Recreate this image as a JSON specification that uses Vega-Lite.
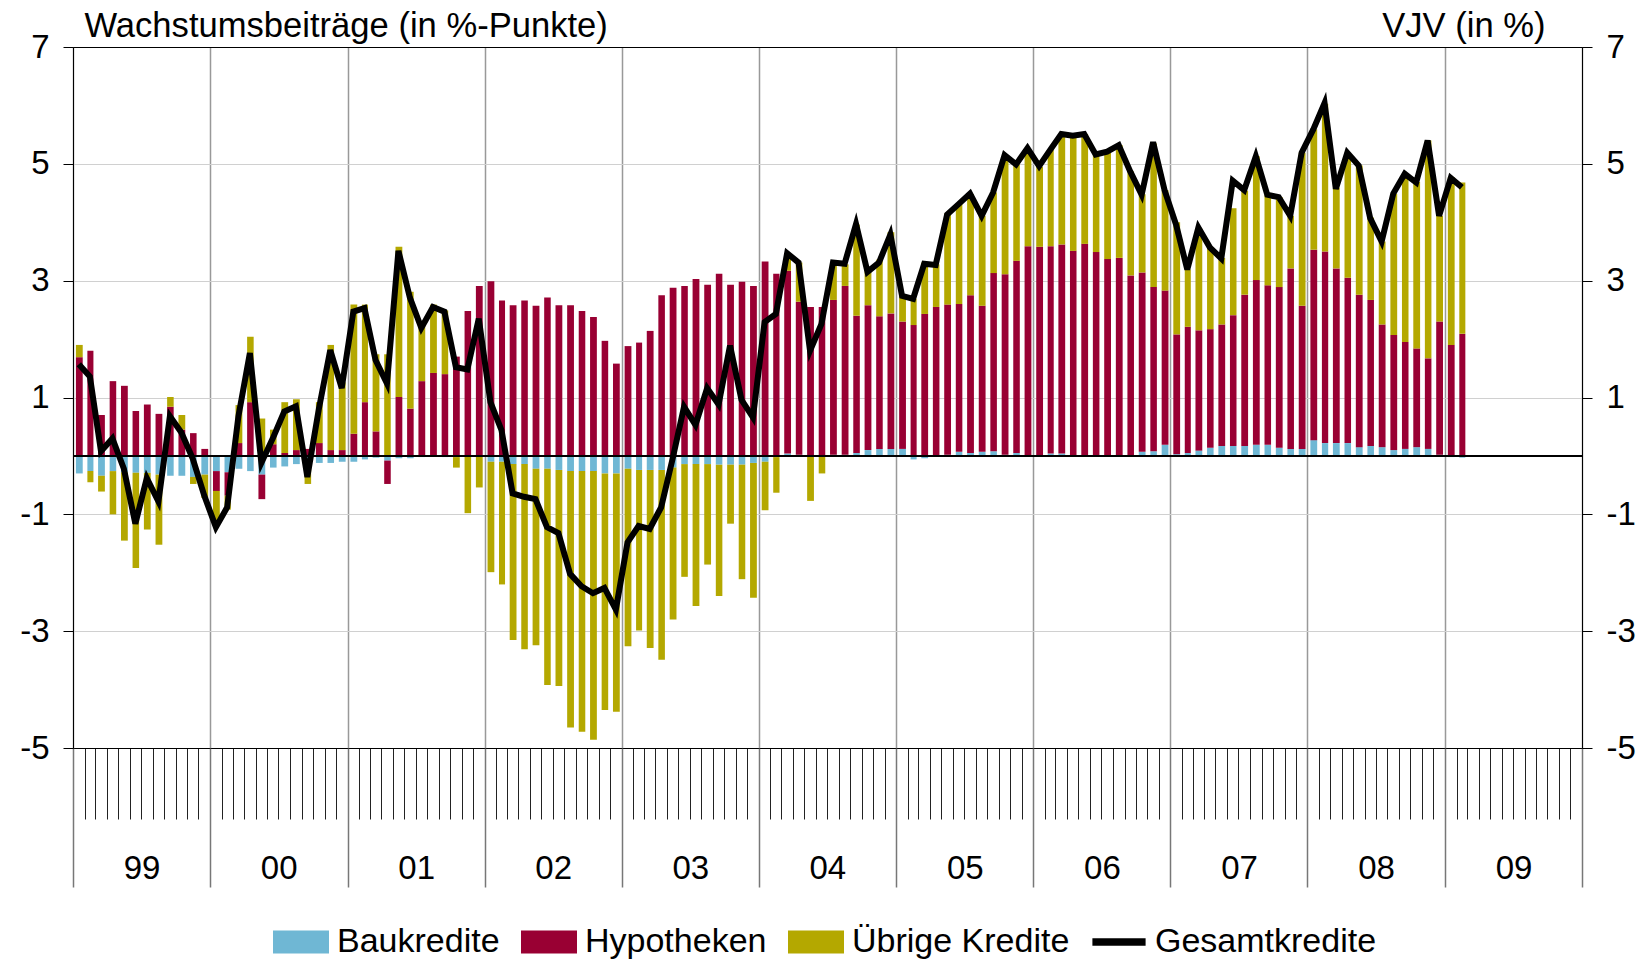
{
  "$schema": "https://vega.github.io/schema/vega-lite/v6.json",
  "width": 1509,
  "height": 701,
  "autosize": {"type": "none"},
  "padding": {"left": 73, "top": 47, "right": 66, "bottom": 212},
  "background": "white",
  "config": {
    "font": "Liberation Sans",
    "view": {"stroke": "black", "strokeWidth": 1}
  },
  "data": {"values": [
    {"d":"1999-01","Baukredite":-0.30,"Hypotheken":1.69,"Übrige Kredite":0.21,"Gesamtkredite":1.57},
    {"d":"1999-02","Baukredite":-0.26,"Hypotheken":1.80,"Übrige Kredite":-0.19,"Gesamtkredite":1.36},
    {"d":"1999-03","Baukredite":-0.34,"Hypotheken":0.70,"Übrige Kredite":-0.27,"Gesamtkredite":0.08},
    {"d":"1999-04","Baukredite":-0.26,"Hypotheken":1.28,"Übrige Kredite":-0.74,"Gesamtkredite":0.30},
    {"d":"1999-05","Baukredite":-0.28,"Hypotheken":1.20,"Übrige Kredite":-1.17,"Gesamtkredite":-0.22},
    {"d":"1999-06","Baukredite":-0.29,"Hypotheken":0.77,"Übrige Kredite":-1.63,"Gesamtkredite":-1.16},
    {"d":"1999-07","Baukredite":-0.29,"Hypotheken":0.88,"Übrige Kredite":-0.97,"Gesamtkredite":-0.38},
    {"d":"1999-08","Baukredite":-0.32,"Hypotheken":0.72,"Übrige Kredite":-1.20,"Gesamtkredite":-0.78},
    {"d":"1999-09","Baukredite":-0.34,"Hypotheken":0.84,"Übrige Kredite":0.17,"Gesamtkredite":0.68},
    {"d":"1999-10","Baukredite":-0.34,"Hypotheken":0.45,"Übrige Kredite":0.25,"Gesamtkredite":0.40},
    {"d":"1999-11","Baukredite":-0.36,"Hypotheken":0.39,"Übrige Kredite":-0.12,"Gesamtkredite":-0.05},
    {"d":"1999-12","Baukredite":-0.32,"Hypotheken":0.12,"Übrige Kredite":-0.40,"Gesamtkredite":-0.68},
    {"d":"2000-01","Baukredite":-0.26,"Hypotheken":-0.34,"Übrige Kredite":-0.60,"Gesamtkredite":-1.22},
    {"d":"2000-02","Baukredite":-0.28,"Hypotheken":-0.40,"Übrige Kredite":-0.24,"Gesamtkredite":-0.88},
    {"d":"2000-03","Baukredite":-0.22,"Hypotheken":0.22,"Übrige Kredite":0.65,"Gesamtkredite":0.68},
    {"d":"2000-04","Baukredite":-0.26,"Hypotheken":0.92,"Übrige Kredite":1.12,"Gesamtkredite":1.76},
    {"d":"2000-05","Baukredite":-0.32,"Hypotheken":-0.42,"Übrige Kredite":0.64,"Gesamtkredite":-0.12},
    {"d":"2000-06","Baukredite":-0.20,"Hypotheken":0.20,"Übrige Kredite":0.25,"Gesamtkredite":0.30},
    {"d":"2000-07","Baukredite":-0.18,"Hypotheken":0.05,"Übrige Kredite":0.87,"Gesamtkredite":0.76},
    {"d":"2000-08","Baukredite":-0.14,"Hypotheken":0.10,"Übrige Kredite":0.87,"Gesamtkredite":0.85},
    {"d":"2000-09","Baukredite":-0.10,"Hypotheken":0.12,"Übrige Kredite":-0.38,"Gesamtkredite":-0.36},
    {"d":"2000-10","Baukredite":-0.12,"Hypotheken":0.22,"Übrige Kredite":0.70,"Gesamtkredite":0.80},
    {"d":"2000-11","Baukredite":-0.12,"Hypotheken":0.10,"Übrige Kredite":1.80,"Gesamtkredite":1.81},
    {"d":"2000-12","Baukredite":-0.10,"Hypotheken":0.10,"Übrige Kredite":1.16,"Gesamtkredite":1.16},
    {"d":"2001-01","Baukredite":-0.10,"Hypotheken":0.38,"Übrige Kredite":2.21,"Gesamtkredite":2.47},
    {"d":"2001-02","Baukredite":-0.06,"Hypotheken":0.92,"Übrige Kredite":1.67,"Gesamtkredite":2.53},
    {"d":"2001-03","Baukredite":-0.03,"Hypotheken":0.42,"Übrige Kredite":1.32,"Gesamtkredite":1.64},
    {"d":"2001-04","Baukredite":-0.08,"Hypotheken":-0.40,"Übrige Kredite":1.74,"Gesamtkredite":1.24},
    {"d":"2001-05","Baukredite":-0.04,"Hypotheken":1.01,"Übrige Kredite":2.57,"Gesamtkredite":3.51},
    {"d":"2001-06","Baukredite":-0.04,"Hypotheken":0.81,"Übrige Kredite":2.00,"Gesamtkredite":2.71},
    {"d":"2001-07","Baukredite":-0.02,"Hypotheken":1.28,"Übrige Kredite":1.02,"Gesamtkredite":2.19},
    {"d":"2001-08","Baukredite":-0.01,"Hypotheken":1.42,"Übrige Kredite":1.17,"Gesamtkredite":2.55},
    {"d":"2001-09","Baukredite":-0.02,"Hypotheken":1.40,"Übrige Kredite":1.09,"Gesamtkredite":2.47},
    {"d":"2001-10","Baukredite":-0.02,"Hypotheken":1.70,"Übrige Kredite":-0.18,"Gesamtkredite":1.52},
    {"d":"2001-11","Baukredite":-0.01,"Hypotheken":2.48,"Übrige Kredite":-0.97,"Gesamtkredite":1.48},
    {"d":"2001-12","Baukredite":-0.01,"Hypotheken":2.91,"Übrige Kredite":-0.53,"Gesamtkredite":2.35},
    {"d":"2002-01","Baukredite":-0.10,"Hypotheken":2.99,"Übrige Kredite":-1.89,"Gesamtkredite":0.92},
    {"d":"2002-02","Baukredite":-0.10,"Hypotheken":2.66,"Übrige Kredite":-2.10,"Gesamtkredite":0.44},
    {"d":"2002-03","Baukredite":-0.14,"Hypotheken":2.58,"Übrige Kredite":-3.01,"Gesamtkredite":-0.64},
    {"d":"2002-04","Baukredite":-0.14,"Hypotheken":2.66,"Übrige Kredite":-3.17,"Gesamtkredite":-0.70},
    {"d":"2002-05","Baukredite":-0.22,"Hypotheken":2.57,"Übrige Kredite":-3.02,"Gesamtkredite":-0.74},
    {"d":"2002-06","Baukredite":-0.22,"Hypotheken":2.71,"Übrige Kredite":-3.70,"Gesamtkredite":-1.22},
    {"d":"2002-07","Baukredite":-0.24,"Hypotheken":2.58,"Übrige Kredite":-3.70,"Gesamtkredite":-1.32},
    {"d":"2002-08","Baukredite":-0.26,"Hypotheken":2.58,"Übrige Kredite":-4.39,"Gesamtkredite":-2.02},
    {"d":"2002-09","Baukredite":-0.26,"Hypotheken":2.48,"Übrige Kredite":-4.46,"Gesamtkredite":-2.23},
    {"d":"2002-10","Baukredite":-0.26,"Hypotheken":2.38,"Übrige Kredite":-4.60,"Gesamtkredite":-2.35},
    {"d":"2002-11","Baukredite":-0.30,"Hypotheken":1.97,"Übrige Kredite":-4.05,"Gesamtkredite":-2.26},
    {"d":"2002-12","Baukredite":-0.30,"Hypotheken":1.58,"Übrige Kredite":-4.08,"Gesamtkredite":-2.63},
    {"d":"2003-01","Baukredite":-0.22,"Hypotheken":1.88,"Übrige Kredite":-3.04,"Gesamtkredite":-1.48},
    {"d":"2003-02","Baukredite":-0.24,"Hypotheken":1.94,"Übrige Kredite":-2.75,"Gesamtkredite":-1.20},
    {"d":"2003-03","Baukredite":-0.24,"Hypotheken":2.14,"Übrige Kredite":-3.05,"Gesamtkredite":-1.25},
    {"d":"2003-04","Baukredite":-0.24,"Hypotheken":2.75,"Übrige Kredite":-3.25,"Gesamtkredite":-0.88},
    {"d":"2003-05","Baukredite":-0.20,"Hypotheken":2.88,"Übrige Kredite":-2.60,"Gesamtkredite":-0.05},
    {"d":"2003-06","Baukredite":-0.14,"Hypotheken":2.91,"Übrige Kredite":-1.93,"Gesamtkredite":0.84},
    {"d":"2003-07","Baukredite":-0.14,"Hypotheken":3.03,"Übrige Kredite":-2.43,"Gesamtkredite":0.53},
    {"d":"2003-08","Baukredite":-0.14,"Hypotheken":2.93,"Übrige Kredite":-1.72,"Gesamtkredite":1.16},
    {"d":"2003-09","Baukredite":-0.15,"Hypotheken":3.12,"Übrige Kredite":-2.25,"Gesamtkredite":0.88},
    {"d":"2003-10","Baukredite":-0.15,"Hypotheken":2.93,"Übrige Kredite":-1.01,"Gesamtkredite":1.89},
    {"d":"2003-11","Baukredite":-0.15,"Hypotheken":2.98,"Übrige Kredite":-1.96,"Gesamtkredite":0.96},
    {"d":"2003-12","Baukredite":-0.12,"Hypotheken":2.91,"Übrige Kredite":-2.31,"Gesamtkredite":0.66},
    {"d":"2004-01","Baukredite":-0.10,"Hypotheken":3.33,"Übrige Kredite":-0.83,"Gesamtkredite":2.29},
    {"d":"2004-02","Baukredite":-0.02,"Hypotheken":3.12,"Übrige Kredite":-0.61,"Gesamtkredite":2.43},
    {"d":"2004-03","Baukredite":0.04,"Hypotheken":3.13,"Übrige Kredite":0.21,"Gesamtkredite":3.47},
    {"d":"2004-04","Baukredite":0.02,"Hypotheken":2.62,"Übrige Kredite":0.67,"Gesamtkredite":3.31},
    {"d":"2004-05","Baukredite":-0.01,"Hypotheken":2.55,"Übrige Kredite":-0.76,"Gesamtkredite":1.80},
    {"d":"2004-06","Baukredite":-0.01,"Hypotheken":2.55,"Übrige Kredite":-0.29,"Gesamtkredite":2.26},
    {"d":"2004-07","Baukredite":0.02,"Hypotheken":2.65,"Übrige Kredite":0.64,"Gesamtkredite":3.31},
    {"d":"2004-08","Baukredite":0.02,"Hypotheken":2.89,"Übrige Kredite":0.37,"Gesamtkredite":3.29},
    {"d":"2004-09","Baukredite":0.05,"Hypotheken":2.35,"Übrige Kredite":1.56,"Gesamtkredite":3.97},
    {"d":"2004-10","Baukredite":0.10,"Hypotheken":2.48,"Übrige Kredite":0.63,"Gesamtkredite":3.15},
    {"d":"2004-11","Baukredite":0.12,"Hypotheken":2.27,"Übrige Kredite":0.97,"Gesamtkredite":3.31},
    {"d":"2004-12","Baukredite":0.12,"Hypotheken":2.32,"Übrige Kredite":1.39,"Gesamtkredite":3.79},
    {"d":"2005-01","Baukredite":0.12,"Hypotheken":2.18,"Übrige Kredite":0.44,"Gesamtkredite":2.74},
    {"d":"2005-02","Baukredite":-0.06,"Hypotheken":2.24,"Übrige Kredite":0.45,"Gesamtkredite":2.69},
    {"d":"2005-03","Baukredite":-0.04,"Hypotheken":2.43,"Übrige Kredite":0.88,"Gesamtkredite":3.29},
    {"d":"2005-04","Baukredite":0.01,"Hypotheken":2.54,"Übrige Kredite":0.73,"Gesamtkredite":3.27},
    {"d":"2005-05","Baukredite":0.02,"Hypotheken":2.57,"Übrige Kredite":1.56,"Gesamtkredite":4.13},
    {"d":"2005-06","Baukredite":0.07,"Hypotheken":2.53,"Übrige Kredite":1.72,"Gesamtkredite":4.31},
    {"d":"2005-07","Baukredite":0.05,"Hypotheken":2.70,"Übrige Kredite":1.73,"Gesamtkredite":4.49},
    {"d":"2005-08","Baukredite":0.07,"Hypotheken":2.50,"Übrige Kredite":1.54,"Gesamtkredite":4.11},
    {"d":"2005-09","Baukredite":0.08,"Hypotheken":3.05,"Übrige Kredite":1.38,"Gesamtkredite":4.51},
    {"d":"2005-10","Baukredite":0.02,"Hypotheken":3.09,"Übrige Kredite":2.02,"Gesamtkredite":5.15},
    {"d":"2005-11","Baukredite":0.05,"Hypotheken":3.29,"Übrige Kredite":1.65,"Gesamtkredite":4.99},
    {"d":"2005-12","Baukredite":0.00,"Hypotheken":3.59,"Übrige Kredite":1.65,"Gesamtkredite":5.27},
    {"d":"2006-01","Baukredite":0.00,"Hypotheken":3.58,"Übrige Kredite":1.37,"Gesamtkredite":4.96},
    {"d":"2006-02","Baukredite":0.04,"Hypotheken":3.55,"Übrige Kredite":1.65,"Gesamtkredite":5.24},
    {"d":"2006-03","Baukredite":0.04,"Hypotheken":3.58,"Übrige Kredite":1.87,"Gesamtkredite":5.51},
    {"d":"2006-04","Baukredite":0.00,"Hypotheken":3.51,"Übrige Kredite":1.96,"Gesamtkredite":5.48},
    {"d":"2006-05","Baukredite":0.01,"Hypotheken":3.62,"Übrige Kredite":1.88,"Gesamtkredite":5.51},
    {"d":"2006-06","Baukredite":0.01,"Hypotheken":3.48,"Übrige Kredite":1.67,"Gesamtkredite":5.16},
    {"d":"2006-07","Baukredite":0.01,"Hypotheken":3.36,"Übrige Kredite":1.84,"Gesamtkredite":5.21},
    {"d":"2006-08","Baukredite":0.00,"Hypotheken":3.39,"Übrige Kredite":1.93,"Gesamtkredite":5.32},
    {"d":"2006-09","Baukredite":0.01,"Hypotheken":3.08,"Übrige Kredite":1.78,"Gesamtkredite":4.87},
    {"d":"2006-10","Baukredite":0.07,"Hypotheken":3.07,"Übrige Kredite":1.34,"Gesamtkredite":4.47},
    {"d":"2006-11","Baukredite":0.08,"Hypotheken":2.81,"Übrige Kredite":2.46,"Gesamtkredite":5.37},
    {"d":"2006-12","Baukredite":0.19,"Hypotheken":2.64,"Übrige Kredite":1.72,"Gesamtkredite":4.55},
    {"d":"2007-01","Baukredite":0.03,"Hypotheken":2.05,"Übrige Kredite":1.92,"Gesamtkredite":3.95},
    {"d":"2007-02","Baukredite":0.05,"Hypotheken":2.16,"Übrige Kredite":0.98,"Gesamtkredite":3.19},
    {"d":"2007-03","Baukredite":0.09,"Hypotheken":2.06,"Übrige Kredite":1.74,"Gesamtkredite":3.91},
    {"d":"2007-04","Baukredite":0.14,"Hypotheken":2.03,"Übrige Kredite":1.40,"Gesamtkredite":3.57},
    {"d":"2007-05","Baukredite":0.17,"Hypotheken":2.08,"Übrige Kredite":1.14,"Gesamtkredite":3.38},
    {"d":"2007-06","Baukredite":0.17,"Hypotheken":2.24,"Übrige Kredite":1.83,"Gesamtkredite":4.71},
    {"d":"2007-07","Baukredite":0.17,"Hypotheken":2.59,"Übrige Kredite":1.78,"Gesamtkredite":4.55},
    {"d":"2007-08","Baukredite":0.19,"Hypotheken":2.82,"Übrige Kredite":2.12,"Gesamtkredite":5.13},
    {"d":"2007-09","Baukredite":0.19,"Hypotheken":2.73,"Übrige Kredite":1.55,"Gesamtkredite":4.47},
    {"d":"2007-10","Baukredite":0.14,"Hypotheken":2.75,"Übrige Kredite":1.54,"Gesamtkredite":4.43},
    {"d":"2007-11","Baukredite":0.12,"Hypotheken":3.09,"Übrige Kredite":0.90,"Gesamtkredite":4.11},
    {"d":"2007-12","Baukredite":0.12,"Hypotheken":2.45,"Übrige Kredite":2.62,"Gesamtkredite":5.19},
    {"d":"2008-01","Baukredite":0.27,"Hypotheken":3.26,"Übrige Kredite":2.06,"Gesamtkredite":5.59},
    {"d":"2008-02","Baukredite":0.22,"Hypotheken":3.28,"Übrige Kredite":2.53,"Gesamtkredite":6.04},
    {"d":"2008-03","Baukredite":0.22,"Hypotheken":2.99,"Übrige Kredite":1.38,"Gesamtkredite":4.57},
    {"d":"2008-04","Baukredite":0.22,"Hypotheken":2.83,"Übrige Kredite":2.14,"Gesamtkredite":5.19},
    {"d":"2008-05","Baukredite":0.15,"Hypotheken":2.61,"Übrige Kredite":2.21,"Gesamtkredite":4.97},
    {"d":"2008-06","Baukredite":0.17,"Hypotheken":2.50,"Übrige Kredite":1.41,"Gesamtkredite":4.07},
    {"d":"2008-07","Baukredite":0.15,"Hypotheken":2.10,"Übrige Kredite":1.42,"Gesamtkredite":3.67},
    {"d":"2008-08","Baukredite":0.10,"Hypotheken":1.97,"Übrige Kredite":2.42,"Gesamtkredite":4.49},
    {"d":"2008-09","Baukredite":0.12,"Hypotheken":1.83,"Übrige Kredite":2.87,"Gesamtkredite":4.83},
    {"d":"2008-10","Baukredite":0.15,"Hypotheken":1.69,"Übrige Kredite":2.85,"Gesamtkredite":4.68},
    {"d":"2008-11","Baukredite":0.12,"Hypotheken":1.55,"Übrige Kredite":3.73,"Gesamtkredite":5.40},
    {"d":"2008-12","Baukredite":0.02,"Hypotheken":2.28,"Übrige Kredite":1.81,"Gesamtkredite":4.11},
    {"d":"2009-01","Baukredite":-0.02,"Hypotheken":1.90,"Übrige Kredite":2.87,"Gesamtkredite":4.76},
    {"d":"2009-02","Baukredite":-0.03,"Hypotheken":2.09,"Übrige Kredite":2.59,"Gesamtkredite":4.60}
  ]},
  "resolve": {"scale": {"y": "independent"}, "axis": {"x": "independent"}},
  "layer": [
    {
      "transform": [{"fold": ["Baukredite", "Hypotheken", "Übrige Kredite"], "as": ["key", "value"]}],
      "mark": {"type": "bar", "width": {"band": 0.67}},
      "encoding": {
        "x": {
          "field": "d", "type": "temporal", "timeUnit": "utcyearmonth",
          "scale": {"type": "utc", "domain": [{"year": 1999, "month": 1, "date": 1, "utc": true}, {"year": 2010, "month": 1, "date": 1, "utc": true}]},
          "axis": {"orient": "bottom", "title": null, "tickCount": {"interval": "month", "step": 1}, "labels": false, "tickSize": 71, "tickColor": "#222", "tickWidth": 1, "grid": false, "domain": true, "domainColor": "black", "domainWidth": 1}
        },
        "y": {
          "field": "value", "type": "quantitative", "stack": "zero",
          "scale": {"domain": [-5, 7], "nice": false, "zero": false},
          "axis": {
            "orient": "left", "values": [-5, -3, -1, 1, 3, 5, 7],
            "labelExpr": "datum.value < 0 ? '-' + abs(datum.value) : '' + datum.value",
            "title": "Wachstumsbeiträge (in %-Punkte)", "titleAngle": 0, "titleAlign": "left", "titleBaseline": "middle",
            "titleX": 11, "titleY": -21, "titleFontSize": 34.6, "titleFontWeight": "normal", "titleColor": "black",
            "labelFontSize": 33, "labelColor": "black", "labelPadding": 14,
            "tickSize": 10, "tickColor": "black", "domainColor": "black",
            "grid": true,
            "gridColor": {"condition": {"test": "datum.value == 7 || datum.value == -5", "value": "black"}, "value": "#d0d0d0"},
            "gridWidth": 1
          }
        },
        "color": {
          "field": "key", "type": "nominal",
          "scale": {"domain": ["Baukredite", "Hypotheken", "Übrige Kredite", "Gesamtkredite"], "range": ["#6FB7D4", "#990033", "#B4A800", "#000000"]},
          "legend": {
            "orient": "none", "legendX": 200, "legendY": 867, "direction": "horizontal", "title": null,
            "padding": 0, "symbolType": "M-1,-0.41H1V0.41H-1Z", "symbolSize": 3136, "symbolStrokeWidth": 0,
            "labelFontSize": 34, "labelColor": "black", "labelOffset": 8, "columnPadding": 21, "labelLimit": 400,
            "encode": {"symbols": {"update": {
              "shape": {"signal": "datum.value === 'Gesamtkredite' ? 'M-0.95,-0.13H0.95V0.13H-0.95Z' : 'M-1,-0.41H1V0.41H-1Z'"},
              "fill": {"signal": "scale('color', datum.value)"},
              "strokeWidth": {"value": 0},
              "opacity": {"value": 1}
            }}}
          }
        },
        "order": {"field": "key", "sort": "ascending"}
      }
    },
    {
      "mark": {"type": "rule", "color": "black", "strokeWidth": 1},
      "encoding": {
        "y": {"datum": 0, "type": "quantitative", "scale": {"domain": [-5, 7], "nice": false, "zero": false}, "axis": null}
      }
    },
    {
      "mark": {"type": "line", "strokeWidth": 6, "strokeJoin": "miter"},
      "encoding": {
        "x": {
          "field": "d", "type": "temporal", "timeUnit": "utcyearmonth", "bandPosition": 0.5,
          "axis": {
            "orient": "bottom", "title": null, "tickCount": {"interval": "year", "step": 1},
            "tickSize": 139, "tickColor": "#777", "tickWidth": 1.5, "domain": false,
            "grid": true, "gridColor": "#999", "gridWidth": 1.5,
            "labelExpr": "utcyear(datum.value) >= 2010 ? '' : utcFormat(datum.value, '%y')",
            "labelOffset": 68.6, "labelPadding": -19, "labelBaseline": "middle", "labelFontSize": 33, "labelColor": "black",
            "labelOverlap": false, "labelFlush": false, "labelBound": false
          }
        },
        "y": {
          "field": "Gesamtkredite", "type": "quantitative",
          "scale": {"domain": [-5, 7], "nice": false, "zero": false},
          "axis": {
            "orient": "right", "values": [-5, -3, -1, 1, 3, 5, 7],
            "labelExpr": "datum.value < 0 ? '-' + abs(datum.value) : '' + datum.value",
            "title": "VJV (in %)", "titleAngle": 0, "titleAlign": "right", "titleBaseline": "middle",
            "titleX": -37, "titleY": -21, "titleFontSize": 34.6, "titleFontWeight": "normal", "titleColor": "black",
            "labelFontSize": 33, "labelColor": "black", "labelPadding": 14,
            "tickSize": 10, "tickColor": "black", "domainColor": "black", "grid": false
          }
        },
        "color": {"datum": "Gesamtkredite"}
      }
    }
  ]
}
